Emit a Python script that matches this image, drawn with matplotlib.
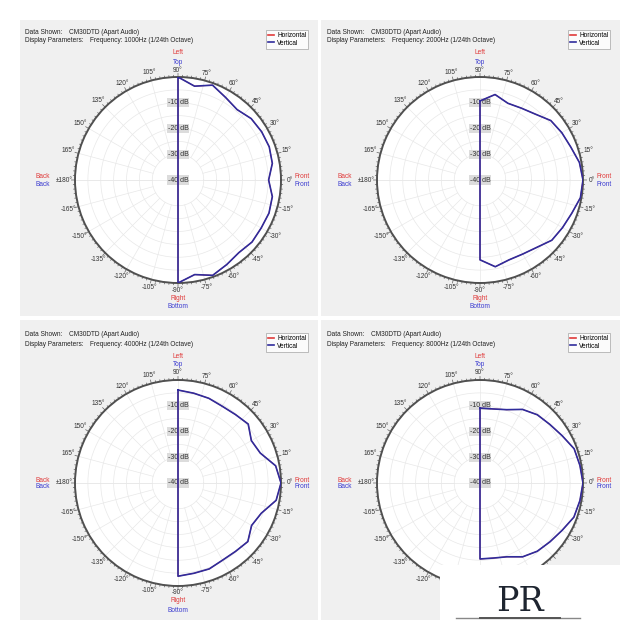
import numpy as np
import matplotlib
matplotlib.use('Agg')
import matplotlib.pyplot as plt
from matplotlib.patches import Rectangle
from matplotlib.lines import Line2D

plt.rcParams['font.family'] = ['Liberation Sans', 'DejaVu Sans']

W, H = 641, 640

# measurement angles (deg) and levels (dB) per frequency
angles = [90, 80, 70, 60, 50, 40, 30, 20, 10, 0, -10, -20, -30, -40, -50, -60, -70, -80, -90]
freqs = ['1000Hz', '2000Hz', '4000Hz', '8000Hz']
vert_1000 = [0, -3.0, -0.8, -3.0, -4.3, -2.9, -2.5, -2.3, -2.8, -4.8, -2.8, -2.4, -2.7, -2.5, -3.2, -2.1, -0.6, -2.7, 0]
vert_2000 = [-9.3, -6.3, -8.3, -7.8, -6.6, -4.1, -3.3, -2.5, -0.8, 0, -0.4, -2.1, -3.0, -3.6, -5.8, -6.8, -7.0, -5.8, -9.0]
vert_4000 = [-3.9, -4.6, -5.0, -5.6, -5.3, -4.4, -7.1, -6.0, -1.5, 0, -1.3, -5.6, -7.0, -4.6, -5.3, -5.4, -4.5, -4.4, -3.8]
vert_8000 = [-10.9, -10.8, -9.7, -7.0, -5.4, -4.6, -3.2, -1.1, -0.6, 0, -0.6, -1.2, -3.2, -4.5, -5.4, -6.9, -9.5, -10.4, -10.5]
# horizontal curves are hidden under the vertical ones
horiz_1000 = vert_1000
horiz_2000 = vert_2000
horiz_4000 = vert_4000
horiz_8000 = vert_8000
vert = [vert_1000, vert_2000, vert_4000, vert_8000]
horiz = [horiz_1000, horiz_2000, horiz_4000, horiz_8000]

db_labels = [-10, -20, -30, -40]
ring_levels = [-30, -25, -20, -15, -10, -5]

RED = '#e03a3a'
BLUE = '#3a3ad0'
CURVE = '#2f2c9c'
GRAY_BG = '#f0f0f0'
GRID = '#e8e8e8'
FS = 4.7

LOGO_X, LOGO_Y = 440, 565


def fx(x):
    return x / W


def fy(y):
    return 1 - y / H


def hidden(x, y):
    # the logo box covers this corner
    return x > LOGO_X - 4 and y > LOGO_Y - 3


fig = plt.figure(figsize=(6.41, 6.40), dpi=100)
fig.patch.set_facecolor('white')

panels = [(20, 20, 298, 296), (321, 20, 299, 296), (20, 320, 298, 300), (321, 320, 299, 300)]
centers = [(178, 180), (480, 180), (178, 483), (480, 483)]
R = 103

for (px, py, pw, ph) in panels:
    fig.patches.append(Rectangle((fx(px), fy(py + ph)), pw / W, ph / H, transform=fig.transFigure,
                                 facecolor=GRAY_BG, edgecolor='none', zorder=-5))

for i, (cx, cy) in enumerate(centers):
    ax = fig.add_axes([fx(cx - R), fy(cy + R), 2 * R / W, 2 * R / H], projection='polar')
    ax.set_ylim(-40, 0)
    ax.set_xticks([])
    ax.set_yticks([])
    ax.set_facecolor('white')
    ax.spines['polar'].set_color('#505050')
    ax.spines['polar'].set_linewidth(1.4)

    # grid rings and spokes
    full = np.linspace(0, 2 * np.pi, 361)
    for lv in ring_levels:
        ax.plot(full, np.full_like(full, lv), color=GRID, lw=0.5, zorder=1)
    for a in range(0, 360, 15):
        t = np.deg2rad(a)
        ax.plot([t, t], [-30, 0], color=GRID, lw=0.5, zorder=1)
    ax.plot([0, np.pi], [0, 0], color=GRID, lw=0.5, zorder=1)

    # outer tick marks
    tt, rr = [], []
    for k in range(144):
        a = k * 2.5
        t = np.deg2rad(a)
        tt += [t, t, np.nan]
        rr += [0, 1.4 if a % 15 == 0 else 0.7, np.nan]
    ax.plot(tt, rr, color='#606060', lw=0.5, clip_on=False, zorder=2)

    # angle labels
    for a in range(-165, 181, 15):
        lab = '\u00b1180\u00b0' if a == 180 else f'{a}\u00b0'
        t = np.deg2rad(a)
        off = 7 + 0.8 * len(lab) * abs(np.cos(t))
        if hidden(cx + (R + off) * np.cos(t), cy - (R + off) * np.sin(t)):
            continue
        ax.annotate(lab, xy=(t, 0), xycoords='data',
                    xytext=(off * np.cos(t), off * np.sin(t)), textcoords='offset pixels',
                    ha='center', va='center', fontsize=FS, color='#333333', annotation_clip=False)

    # dB labels
    for lv in db_labels:
        ax.text(np.pi / 2, lv, f'{lv} dB', ha='center', va='center', fontsize=FS + 0.3, color='#333333',
                bbox=dict(boxstyle='square,pad=0.15', facecolor='#dcdcdc', edgecolor='none'), zorder=3)

    th = list(np.deg2rad(angles))
    hv = horiz[i]
    vv = vert[i]
    lh, = ax.plot(th + [th[0]], hv + [hv[0]], color=RED, lw=0.7, zorder=4, label='Horizontal')
    lv_, = ax.plot(th + [th[0]], vv + [vv[0]], color=CURVE, lw=1.2, zorder=5, label='Vertical')

    # header
    fig.text(fx(cx - 153), fy(cy - 148), 'Data Shown:', fontsize=FS, color='#222222', va='center')
    fig.text(fx(cx - 109), fy(cy - 148), 'CM30DTD (Apart Audio)', fontsize=FS, color='#222222', va='center')
    fig.text(fx(cx - 153), fy(cy - 139), 'Display Parameters:', fontsize=FS, color='#222222', va='center')
    fig.text(fx(cx - 88), fy(cy - 139), f'Frequency: {freqs[i]} (1/24th Octave)', fontsize=FS,
             color='#222222', va='center')

    # direction labels
    side = [(0, -127, 'Left', RED), (0, -118, 'Top', BLUE),
            (0, 118, 'Right', RED), (0, 127, 'Bottom', BLUE),
            (-135, -3, 'Back', RED), (-135, 4, 'Back', BLUE),
            (124, -3, 'Front', RED), (124, 4, 'Front', BLUE)]
    for dx, dy, s, c in side:
        if hidden(cx + dx, cy + dy):
            continue
        fig.text(fx(cx + dx), fy(cy + dy), s, fontsize=FS, color=c, ha='center', va='center')

    leg = fig.legend(handles=[lh, lv_], loc='upper left', bbox_to_anchor=(fx(cx + 88), fy(cy - 150)),
                     fontsize=FS, frameon=True, fancybox=False, handlelength=1.0, handletextpad=0.4,
                     borderpad=0.3, labelspacing=0.1, borderaxespad=0)
    leg.get_frame().set_edgecolor('#a0a0a0')
    leg.get_frame().set_linewidth(0.6)
    for hl in leg.get_lines():
        hl.set_linewidth(1.2)

# logo box in the lower right corner
fig.patches.append(Rectangle((fx(LOGO_X), 0), 1 - fx(LOGO_X), fy(LOGO_Y), transform=fig.transFigure,
                             facecolor='white', edgecolor='none', zorder=10))
fig.text(fx(520), fy(602), 'PR', fontsize=24, family='DejaVu Serif', color='#1e2530',
         ha='center', va='center', zorder=11)
fig.lines.append(Line2D([fx(456), fx(580)], [fy(618), fy(618)], transform=fig.transFigure,
                        color='#888888', lw=1.0, zorder=11))
fig.lines.append(Line2D([fx(480), fx(560)], [fy(618), fy(618)], transform=fig.transFigure,
                        color='#555555', lw=1.4, zorder=11))

fig.savefig('out.png', dpi=100)
